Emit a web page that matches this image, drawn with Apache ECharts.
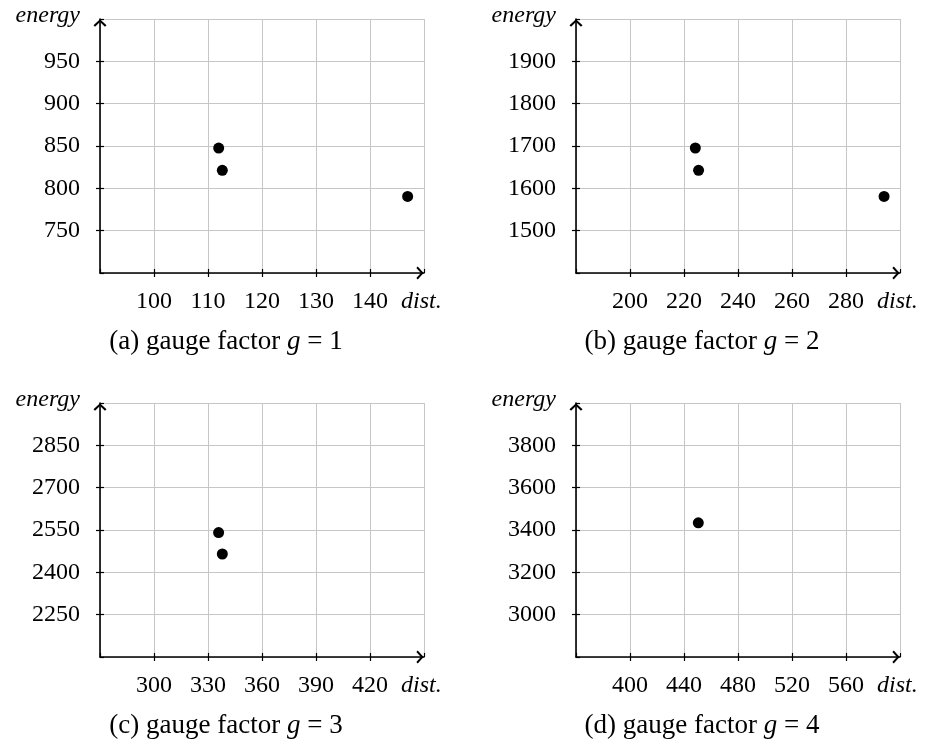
<!DOCTYPE html>
<html>
<head>
<meta charset="utf-8">
<script src="https://cdn.jsdelivr.net/npm/echarts@6/dist/echarts.min.js"></script>
<style>
  html, body { margin: 0; background: #fff; }
  #chart { width: 934px; height: 739px; }
</style>
</head>
<body>
<div id="chart"></div>
<script>
// one panel per gauge factor g
const gaugeFactors = [1, 2, 3, 4];
const panelLetters = ['a', 'b', 'c', 'd'];

// axis ranges (dist. on x, energy on y)
const distMin = [90, 180, 270, 360];
const distMax = [150, 300, 450, 600];
const distStep = [10, 20, 30, 40];
const energyMin = [700, 1400, 2100, 2800];
const energyMax = [1000, 2000, 3000, 4000];
const energyStep = [50, 100, 150, 200];

// points [dist., energy]
const pointsG1 = [[111.98, 847.6], [112.65, 821.3], [146.97, 790.5]];
const pointsG2 = [[224.2, 1695.3], [225.4, 1642.5], [294.1, 1581]];
const pointsG3 = [[335.9, 2541], [337.96, 2465]];
const pointsG4 = [[450.6, 3434]];
const points = [pointsG1, pointsG2, pointsG3, pointsG4];

const FONT = '"Liberation Serif", "Times New Roman", serif';
const panelLeft = [100, 576, 100, 576];
const panelTop = [19, 19, 403, 403];
const plotW = 324, plotH = 254;

// open chevron arrow head (tip points along the axis)
const arrowHead = 'path://M0,10 L11,0 L22,10 L19.4,12.3 L11,4.6 L2.6,12.3 Z';

const axisLineStyle = { color: '#000', width: 1.6 };
const tickStyle = { color: '#000', width: 1.2 };
const gridStyle = { color: '#c6c6c6', width: 1 };
const labelStyle = { fontFamily: FONT, fontSize: 24, color: '#000' };
const plainNumber = v => String(v);

const grids = [], xAxes = [], yAxes = [], series = [], graphics = [];

gaugeFactors.forEach((g, i) => {
  grids.push({ left: panelLeft[i], top: panelTop[i], width: plotW, height: plotH });

  const xRange = { min: distMin[i], max: distMax[i], interval: distStep[i] };
  const yRange = { min: energyMin[i], max: energyMax[i], interval: energyStep[i] };

  // main x axis: line, arrow, outer ticks, labels, grid lines
  xAxes.push(Object.assign({
    gridIndex: i, type: 'value', position: 'bottom',
    axisLine: {
      show: true, onZero: false, lineStyle: axisLineStyle,
      symbol: ['none', arrowHead], symbolSize: [13, 8], symbolOffset: [0, -4]
    },
    axisTick: { show: true, inside: false, length: 4, lineStyle: tickStyle },
    axisLabel: Object.assign({
      showMinLabel: false, showMaxLabel: false, margin: 17, formatter: plainNumber
    }, labelStyle),
    splitLine: { show: true, lineStyle: gridStyle }
  }, xRange));
  // second x axis only for the inner half of the crossing ticks
  xAxes.push(Object.assign({
    gridIndex: i, type: 'value', position: 'bottom',
    axisLine: { show: false, onZero: false },
    axisTick: { show: true, inside: true, length: 4, lineStyle: tickStyle },
    axisLabel: { show: false }, splitLine: { show: false }
  }, xRange));

  yAxes.push(Object.assign({
    gridIndex: i, type: 'value', position: 'left',
    name: 'energy', nameLocation: 'end', nameGap: 3,
    nameTextStyle: Object.assign({}, labelStyle, {
      fontStyle: 'italic', align: 'right', verticalAlign: 'middle', padding: [0, 20, 0, 0]
    }),
    axisLine: {
      show: true, onZero: false, lineStyle: axisLineStyle,
      symbol: ['none', arrowHead], symbolSize: [13, 8], symbolOffset: [0, -4]
    },
    axisTick: { show: true, inside: false, length: 4, lineStyle: tickStyle },
    axisLabel: Object.assign({
      showMinLabel: false, showMaxLabel: false, margin: 20, formatter: plainNumber
    }, labelStyle),
    splitLine: { show: true, lineStyle: gridStyle }
  }, yRange));
  yAxes.push(Object.assign({
    gridIndex: i, type: 'value', position: 'left',
    axisLine: { show: false, onZero: false },
    axisTick: { show: true, inside: true, length: 4, lineStyle: tickStyle },
    axisLabel: { show: false }, splitLine: { show: false }
  }, yRange));

  series.push({
    type: 'scatter', xAxisIndex: 2 * i, yAxisIndex: 2 * i,
    data: points[i], symbolSize: 11,
    itemStyle: { color: '#000', opacity: 1 }, silent: true
  });

  // x axis name, on the tick label line after the last label
  graphics.push({
    type: 'text',
    x: panelLeft[i] + plotW - 23, y: panelTop[i] + plotH + 29,
    style: {
      text: 'dist.', fontFamily: FONT, fontSize: 24, fontStyle: 'italic', fill: '#000',
      textAlign: 'left', textVerticalAlign: 'middle'
    }
  });

  // sub caption under each panel
  graphics.push({
    type: 'text',
    x: panelLeft[i] + 126, y: panelTop[i] + plotH + 69,
    style: {
      text: '(' + panelLetters[i] + ') gauge factor {i|g} = ' + g,
      fontFamily: FONT, fontSize: 27, fill: '#000',
      textAlign: 'center', textVerticalAlign: 'middle',
      rich: { i: { fontFamily: FONT, fontSize: 27, fontStyle: 'italic' } }
    }
  });
});

const chart = echarts.init(document.getElementById('chart'));
chart.setOption({
  animation: false,
  backgroundColor: '#fff',
  grid: grids,
  xAxis: xAxes,
  yAxis: yAxes,
  series: series,
  graphic: graphics
});
window.addEventListener('resize', () => chart.resize());
</script>
</body>
</html>
